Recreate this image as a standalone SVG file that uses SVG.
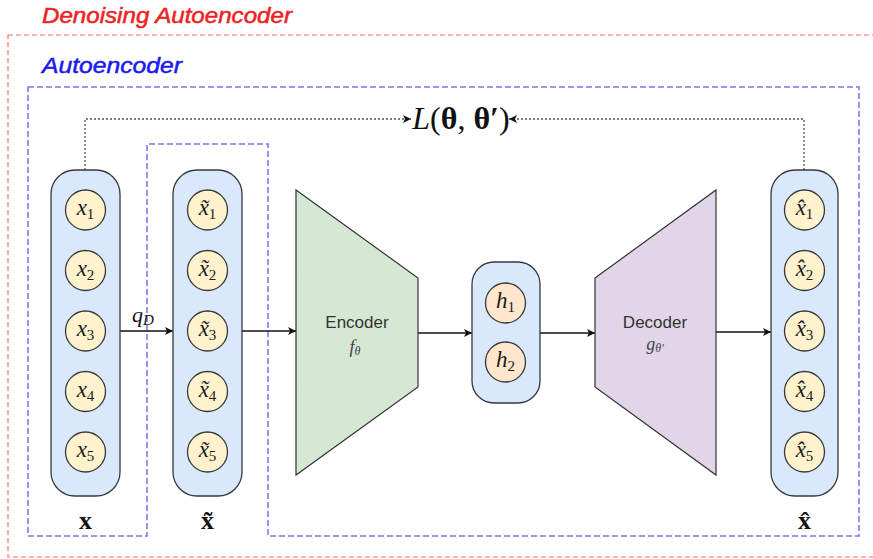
<svg xmlns="http://www.w3.org/2000/svg" width="873" height="559" viewBox="0 0 873 559">
  <style>
    .title { font-family: "Liberation Sans", Arial, sans-serif; font-style: italic; font-size: 22px; stroke-width: 0.5; }
    .col { fill: #dae8fc; stroke: #36393d; stroke-width: 1.3; }
    .unit { fill: #fff2cc; stroke: #36393d; stroke-width: 1.3; }
    .hid { fill: #ffe6cc; stroke: #36393d; stroke-width: 1.3; }
    .math { font-family: "Liberation Serif", "DejaVu Serif", serif; font-style: italic; font-size: 23px; fill: #1a1a1a; text-anchor: middle; }
    .sub { font-style: normal; font-size: 15px; }
    .vec { font-family: "Liberation Serif", "DejaVu Serif", serif; font-weight: bold; font-size: 26px; fill: #111; text-anchor: middle; }
    .lbl { font-family: "Liberation Sans", Arial, sans-serif; font-size: 17px; fill: #333; text-anchor: middle; }
    .fn { font-family: "Liberation Serif", serif; font-style: italic; font-size: 18px; fill: #444; text-anchor: middle; }
    .edge { fill: none; stroke: #111; stroke-width: 1.3; }
    .loss { fill: none; stroke: #555; stroke-width: 1.3; stroke-dasharray: 2 2; }
  </style>
  <defs>
    <marker id="arrow" viewBox="0 0 10 10" refX="10" refY="5" markerWidth="8" markerHeight="8" markerUnits="userSpaceOnUse" orient="auto">
      <path d="M0,0 L10,5 L0,10 L2.5,5 Z" fill="#111"/>
    </marker>
  </defs>

  <!-- frames -->
  <g id="frames">
    <rect x="8" y="35" width="880" height="522" fill="none" stroke="#ff6b6b" stroke-width="1.2" stroke-dasharray="5 3"/>
    <text class="title" x="42" y="23" fill="#ee2222" stroke="#ee2222" textLength="250" lengthAdjust="spacingAndGlyphs">Denoising Autoencoder</text>
    <path d="M28,87 H859 V536 H268 V144 H147 V536 H28 Z" fill="none" stroke="#7a7af0" stroke-width="1.6" stroke-dasharray="6 3"/>
    <text class="title" x="42" y="73" fill="#1a1aee" stroke="#1a1aee" textLength="140" lengthAdjust="spacingAndGlyphs">Autoencoder</text>
  </g>

  <!-- connectors -->
  <g id="connectors">
    <path class="edge" d="M120,331 H173" marker-end="url(#arrow)"/>
    <path class="edge" d="M242,331 H296" marker-end="url(#arrow)"/>
    <path class="edge" d="M418,333 H472" marker-end="url(#arrow)"/>
    <path class="edge" d="M540,333 H595" marker-end="url(#arrow)"/>
    <path class="edge" d="M716,332 H771" marker-end="url(#arrow)"/>
    <path class="loss" d="M85,170 V119 H411" marker-end="url(#arrow)"/>
    <path class="loss" d="M804,170 V119 H509" marker-end="url(#arrow)"/>
    <text x="132" y="322" font-family="Liberation Serif, serif" font-style="italic" font-size="22" fill="#111">q<tspan font-size="15" dy="3">D</tspan></text>
  </g>

  <!-- input x -->
  <g id="input">
    <rect class="col" x="51" y="170" width="69" height="326" rx="24"/>
    <circle class="unit" cx="85.5" cy="210" r="20"/>
    <circle class="unit" cx="85.5" cy="270.5" r="20"/>
    <circle class="unit" cx="85.5" cy="331" r="20"/>
    <circle class="unit" cx="85.5" cy="391.5" r="20"/>
    <circle class="unit" cx="85.5" cy="452" r="20"/>
    <text class="math" x="85.5" y="215">x<tspan class="sub" dy="4">1</tspan></text>
    <text class="math" x="85.5" y="275.5">x<tspan class="sub" dy="4">2</tspan></text>
    <text class="math" x="85.5" y="336">x<tspan class="sub" dy="4">3</tspan></text>
    <text class="math" x="85.5" y="396.5">x<tspan class="sub" dy="4">4</tspan></text>
    <text class="math" x="85.5" y="457">x<tspan class="sub" dy="4">5</tspan></text>
    <text class="vec" x="85.5" y="529">x</text>
  </g>

  <!-- corrupted input -->
  <g id="corrupted">
    <rect class="col" x="173" y="170" width="69" height="326" rx="24"/>
    <circle class="unit" cx="207.5" cy="210" r="20"/>
    <circle class="unit" cx="207.5" cy="270.5" r="20"/>
    <circle class="unit" cx="207.5" cy="331" r="20"/>
    <circle class="unit" cx="207.5" cy="391.5" r="20"/>
    <circle class="unit" cx="207.5" cy="452" r="20"/>
    <text class="math" x="207.5" y="215">x̃<tspan class="sub" dy="4">1</tspan></text>
    <text class="math" x="207.5" y="275.5">x̃<tspan class="sub" dy="4">2</tspan></text>
    <text class="math" x="207.5" y="336">x̃<tspan class="sub" dy="4">3</tspan></text>
    <text class="math" x="207.5" y="396.5">x̃<tspan class="sub" dy="4">4</tspan></text>
    <text class="math" x="207.5" y="457">x̃<tspan class="sub" dy="4">5</tspan></text>
    <text class="vec" x="207.5" y="529">x̃</text>
  </g>

  <!-- encoder -->
  <g id="encoder">
    <path d="M296,190 L418,278 V387 L296,475 Z" fill="#d5e8d4" stroke="#333" stroke-width="1.2"/>
    <text class="lbl" x="357" y="328">Encoder</text>
    <text class="fn" x="355" y="353">f<tspan font-size="12" dy="2">θ</tspan></text>
  </g>

  <!-- code layer -->
  <g id="code">
    <rect class="col" x="472" y="262" width="68" height="141" rx="22"/>
    <circle class="hid" cx="505.5" cy="303" r="20"/>
    <circle class="hid" cx="505.5" cy="362" r="20"/>
    <text class="math" x="505.5" y="308">h<tspan class="sub" dy="4">1</tspan></text>
    <text class="math" x="505.5" y="367">h<tspan class="sub" dy="4">2</tspan></text>
  </g>

  <!-- decoder -->
  <g id="decoder">
    <path d="M595,278 L716,190 V475 L595,387 Z" fill="#e1d5e7" stroke="#333" stroke-width="1.2"/>
    <text class="lbl" x="655" y="328">Decoder</text>
    <text class="fn" x="655" y="350">g<tspan font-size="12" dy="2">θ′</tspan></text>
  </g>

  <!-- reconstruction -->
  <g id="output">
    <rect class="col" x="771" y="170" width="67" height="326" rx="24"/>
    <circle class="unit" cx="804.5" cy="210" r="20"/>
    <circle class="unit" cx="804.5" cy="270.5" r="20"/>
    <circle class="unit" cx="804.5" cy="331" r="20"/>
    <circle class="unit" cx="804.5" cy="391.5" r="20"/>
    <circle class="unit" cx="804.5" cy="452" r="20"/>
    <text class="math" x="804.5" y="215">x̂<tspan class="sub" dy="4">1</tspan></text>
    <text class="math" x="804.5" y="275.5">x̂<tspan class="sub" dy="4">2</tspan></text>
    <text class="math" x="804.5" y="336">x̂<tspan class="sub" dy="4">3</tspan></text>
    <text class="math" x="804.5" y="396.5">x̂<tspan class="sub" dy="4">4</tspan></text>
    <text class="math" x="804.5" y="457">x̂<tspan class="sub" dy="4">5</tspan></text>
    <text class="vec" x="804.5" y="529">x̂</text>
  </g>

  <!-- loss -->
  <g id="loss">
    <text x="461" y="129" font-family="Liberation Serif, serif" font-size="32" fill="#111" text-anchor="middle"><tspan font-style="italic">L</tspan>(<tspan font-weight="bold">θ</tspan>, <tspan font-weight="bold">θ′</tspan>)</text>
  </g>
</svg>
